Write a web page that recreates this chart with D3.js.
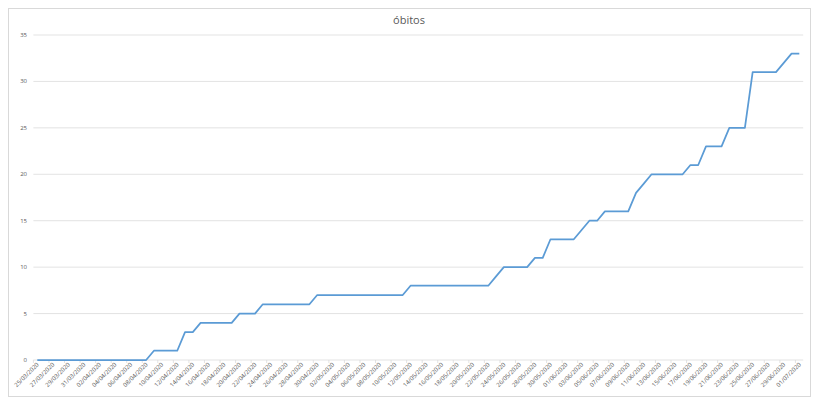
<!DOCTYPE html>
<html>
<head>
    <meta charset="utf-8">
    <title>óbitos</title>
    <script src="https://d3js.org/d3.v7.min.js"></script>
    <style>
        body { margin: 0; background: #fff; }
        .tick-label { font-size: 6px; fill: #595959; font-family: 'Open Sans', sans-serif; }
        .title { font-size: 11px; fill: #595959; font-family: 'Open Sans', sans-serif; }
    </style>
</head>
<body>
    <svg width="814" height="399"></svg>
    <script>
        // data: daily cumulative deaths, 25/03/2020 .. 01/07/2020
        const startDate = "25/03/2020";
        const endDate = "01/07/2020";
        const obitos = [
            0, 0, 0, 0, 0, 0, 0, 0, 0, 0, 0, 0, 0, 0, 0,
            1, 1, 1, 1,
            3, 3,
            4, 4, 4, 4, 4,
            5, 5, 5,
            6, 6, 6, 6, 6, 6, 6,
            7, 7, 7, 7, 7, 7, 7, 7, 7, 7, 7, 7,
            8, 8, 8, 8, 8, 8, 8, 8, 8, 8, 8,
            9,
            10, 10, 10, 10,
            11, 11,
            13, 13, 13, 13,
            14,
            15, 15,
            16, 16, 16, 16,
            18,
            19,
            20, 20, 20, 20, 20,
            21, 21,
            23, 23, 23,
            25, 25, 25,
            31, 31, 31, 31,
            32,
            33, 33
        ];
        const yTicks = [0, 5, 10, 15, 20, 25, 30, 35];
        const chartTitle = "óbitos";

        const parse = d3.timeParse("%d/%m/%Y");
        const fmt = d3.timeFormat("%d/%m/%Y");
        const days = d3.timeDay.range(parse(startDate), d3.timeDay.offset(parse(endDate), 1));
        const data = days.map((d, i) => ({ date: fmt(d), value: obitos[i] }));

        const svg = d3.select("svg");

        // outer chart frame
        svg.append("rect")
           .attr("x", 8.5).attr("y", 8.5)
           .attr("width", 802).attr("height", 388)
           .attr("fill", "#fff")
           .attr("stroke", "#d9d9d9");

        svg.append("text")
           .attr("class", "title")
           .attr("x", 409).attr("y", 24)
           .attr("text-anchor", "middle")
           .text(chartTitle);

        const plotLeft = 33.4, plotRight = 803.2, plotTop = 35, plotBottom = 360;

        const x = d3.scaleBand()
                    .domain(data.map(d => d.date))
                    .range([plotLeft, plotRight]);

        const y = d3.scaleLinear()
                    .domain([0, 35])
                    .range([plotBottom, plotTop]);

        // gridlines
        svg.append("g")
           .selectAll("line")
           .data(yTicks.filter(t => t > 0))
           .join("line")
           .attr("x1", plotLeft).attr("x2", plotRight)
           .attr("y1", d => y(d)).attr("y2", d => y(d))
           .attr("stroke", "#d9d9d9")
           .attr("stroke-width", 0.75);

        // y labels
        svg.append("g")
           .selectAll("text")
           .data(yTicks)
           .join("text")
           .attr("class", "tick-label")
           .attr("x", 27)
           .attr("y", d => y(d) + 2)
           .attr("text-anchor", "end")
           .text(d => d);

        // x axis line + tick marks every 2 days (at band edges)
        svg.append("line")
           .attr("x1", plotLeft).attr("x2", plotRight)
           .attr("y1", plotBottom).attr("y2", plotBottom)
           .attr("stroke", "#d9d9d9")
           .attr("stroke-width", 0.75);

        const labelled = data.filter((d, i) => i % 2 === 0);

        svg.append("g")
           .selectAll("line")
           .data(labelled)
           .join("line")
           .attr("x1", d => x(d.date)).attr("x2", d => x(d.date))
           .attr("y1", plotBottom).attr("y2", plotBottom + 3)
           .attr("stroke", "#d9d9d9")
           .attr("stroke-width", 0.75);

        svg.append("g")
           .selectAll("text")
           .data(labelled)
           .join("text")
           .attr("class", "tick-label")
           .attr("text-anchor", "end")
           .attr("transform", d => `translate(${x(d.date) + x.bandwidth() / 2 + 2},${plotBottom + 5}) rotate(-45)`)
           .text(d => d.date);

        // line
        const line = d3.line()
                       .x(d => x(d.date) + x.bandwidth() / 2)
                       .y(d => y(d.value));

        svg.append("path")
           .datum(data)
           .attr("fill", "none")
           .attr("stroke", "#5b9bd5")
           .attr("stroke-width", 1.75)
           .attr("stroke-linejoin", "round")
           .attr("d", line);
    </script>
</body>
</html>
